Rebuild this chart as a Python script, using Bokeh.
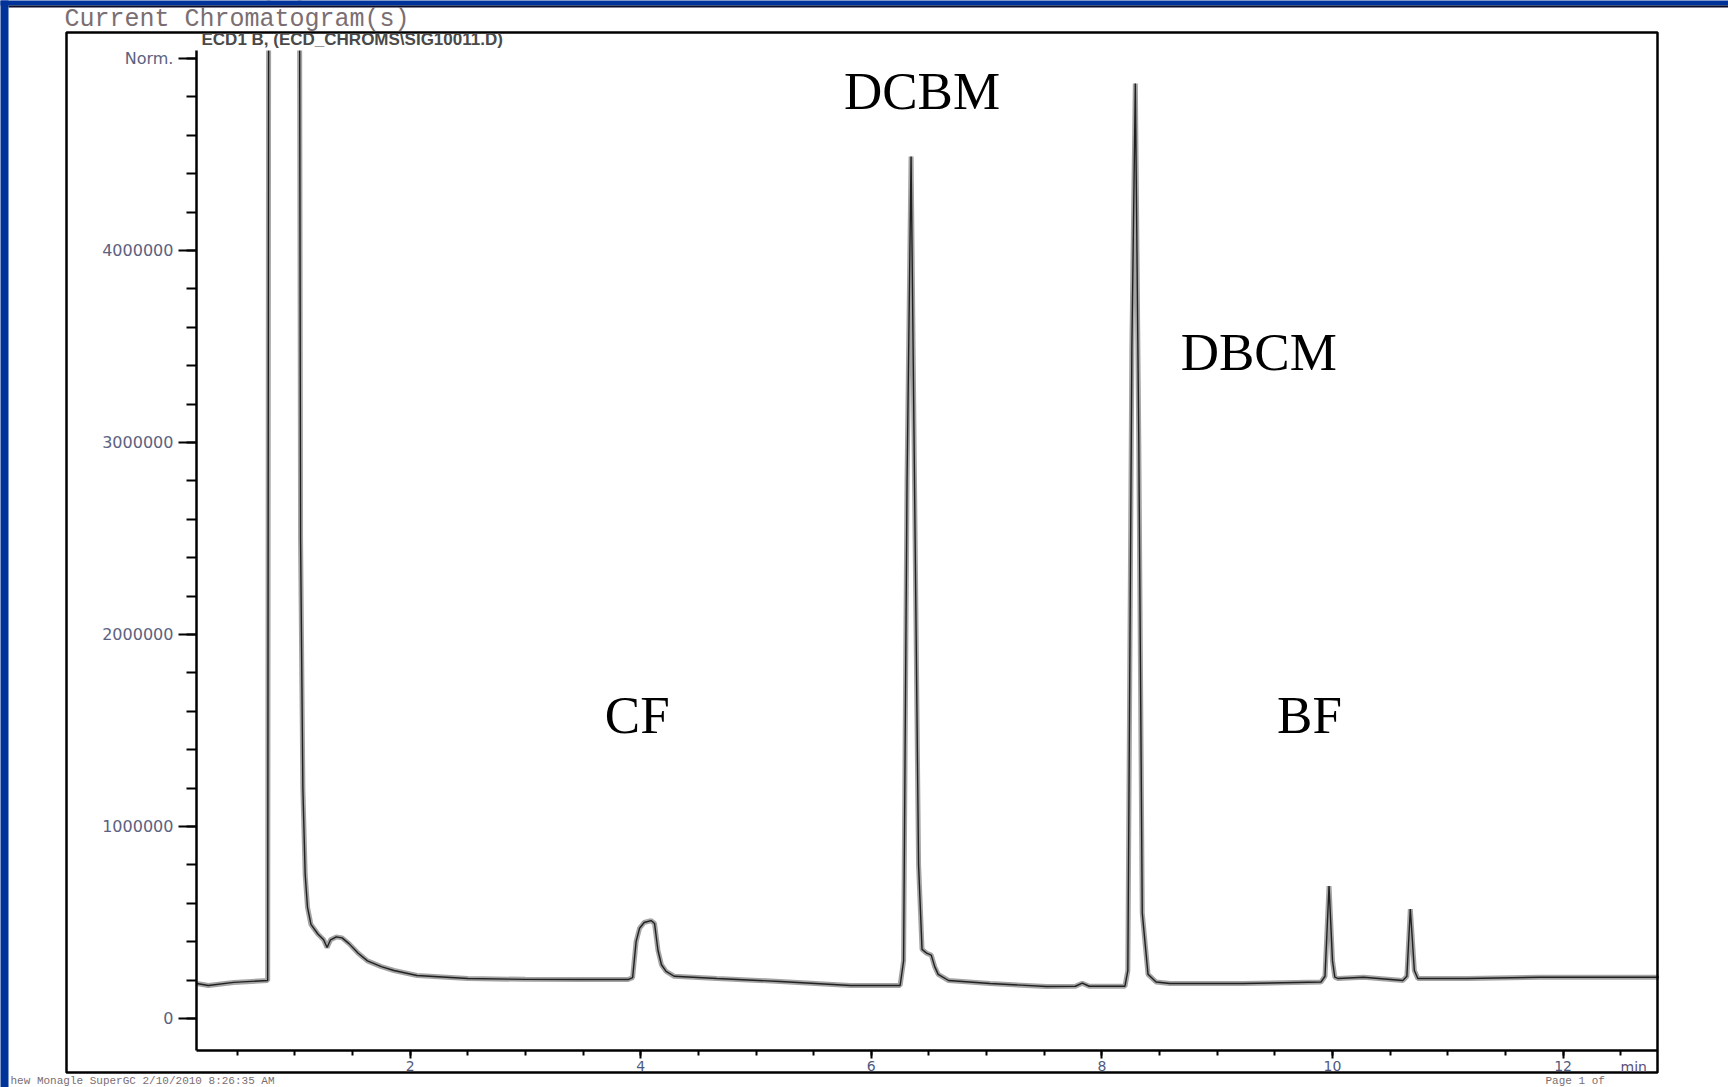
from bokeh.plotting import figure
from bokeh.models import (Range1d, SingleIntervalTicker, NumeralTickFormatter,
                          BoxAnnotation, Label, ColumnDataSource, LinearAxis)
from bokeh.core.properties import value
from bokeh.embed import file_html
from bokeh.resources import INLINE

# ---- data (retention time in min, detector signal in counts) ----
times = [0.15, 0.25, 0.47, 0.765, 0.78, 0.95, 1.03, 1.05, 1.07, 1.09, 1.11, 1.14,
         1.20, 1.25, 1.28, 1.31, 1.36, 1.41, 1.47, 1.55, 1.63, 1.75, 1.86, 2.06,
         2.50, 3.00, 3.50, 3.89, 3.93, 3.96, 3.99, 4.03, 4.09, 4.12, 4.15, 4.18,
         4.22, 4.29, 4.66, 5.21, 5.82, 6.25, 6.28, 6.31, 6.345, 6.38, 6.41, 6.44,
         6.48, 6.52, 6.55, 6.58, 6.67, 7.03, 7.52, 7.77, 7.83, 7.89, 8.20, 8.225,
         8.26, 8.29, 8.32, 8.35, 8.40, 8.47, 8.59, 9.22, 9.90, 9.935, 9.97, 10.00,
         10.02, 10.05, 10.27, 10.61, 10.645, 10.675, 10.71, 10.74, 11.17, 11.80, 12.83]
signal = [182000, 172000, 188000, 198000, 9500000, 12000000, 9000000, 2500000,
          1200000, 750000, 580000, 490000, 440000, 410000, 370000, 410000, 425000,
          420000, 390000, 340000, 300000, 270000, 250000, 224000, 208000, 204000,
          203000, 203000, 213000, 400000, 470000, 500000, 510000, 495000, 354000,
          280000, 245000, 220000, 208000, 193000, 172000, 172000, 300000, 2800000,
          4490000, 2500000, 800000, 360000, 340000, 330000, 270000, 230000, 198000,
          182000, 167000, 168000, 184000, 168000, 168000, 250000, 3500000, 4870000,
          3000000, 550000, 230000, 190000, 182000, 182000, 190000, 220000, 690000,
          300000, 215000, 208000, 215000, 198000, 220000, 570000, 250000, 208000,
          208000, 215000, 215000]
assert len(times) == len(signal)

peak_names = ["CF", "DCBM", "DBCM", "BF"]
label_times = [3.97, 6.44, 9.36, 9.80]
label_signal = [1580000, 4830000, 3470000, 1580000]

x_axis_span = (0.147, 12.82)          # min
y_axis_span = (-166667, 5042000)      # counts
y_tick_override = {5000000: "Norm."}

# ---- page geometry: map page pixels <-> data (the frame covers the page) ----
W, H = 1728, 1087
X0_PX, PX_PER_MIN = 179.0, 115.3
Y0_PX, PX_PER_COUNT = 1018.0, 192.0 / 1e6


def tx(px):
    return (px - X0_PX) / PX_PER_MIN


def vy(py):
    return (Y0_PX - py) / PX_PER_COUNT


p = figure(width=W, height=H, output_backend="svg", toolbar_location=None,
           x_range=Range1d(tx(0), tx(W)), y_range=Range1d(vy(H), vy(0)),
           x_axis_location=None, y_axis_location=None,
           min_border=0, min_border_left=0, min_border_right=0,
           min_border_top=0, min_border_bottom=0)
p.background_fill_color = "white"
p.border_fill_color = "white"
p.outline_line_color = None
p.grid.visible = False

# trace: grey halo + dark core
p.line(times, signal, line_color="#a4a4a4", line_width=5)
p.line(times, signal, line_color="#202020", line_width=1.4)

# peak labels
src = ColumnDataSource(dict(x=label_times, y=label_signal, t=peak_names))
p.text(x="x", y="y", text="t", source=src, text_font=value("Liberation Serif"),
       text_font_size="53px", text_color="black", text_align="center",
       text_baseline="middle")

# axes at fixed locations
xa = LinearAxis(fixed_location=y_axis_span[0], bounds=x_axis_span)
xa.ticker = SingleIntervalTicker(interval=2, num_minor_ticks=4)
xa.axis_line_width = 2.5
xa.axis_line_color = "black"
xa.major_tick_out = 8
xa.major_tick_in = 0
xa.minor_tick_out = 5
xa.minor_tick_in = 0
xa.major_tick_line_width = 2
xa.minor_tick_line_width = 2
xa.major_label_text_font = "DejaVu Sans"
xa.major_label_text_font_size = "14px"
xa.major_label_text_color = "#505a80"
xa.major_label_standoff = 2
p.add_layout(xa, "below")

ya = LinearAxis(fixed_location=x_axis_span[0], bounds=y_axis_span)
ya.ticker = SingleIntervalTicker(interval=1000000, num_minor_ticks=5)
ya.formatter = NumeralTickFormatter(format="0")
ya.major_label_overrides = y_tick_override
ya.axis_line_width = 2.5
ya.axis_line_color = "black"
ya.major_tick_out = 18
ya.major_tick_in = 0
ya.minor_tick_out = 10
ya.minor_tick_in = 0
ya.major_tick_line_width = 2
ya.minor_tick_line_width = 2
ya.major_label_text_font = "DejaVu Sans"
ya.major_label_text_font_size = "16px"
ya.major_label_text_color = "#5b6180"
ya.major_label_standoff = 5
p.add_layout(ya, "left")


def box(l, r, t, b, **kw):
    p.add_layout(BoxAnnotation(left=tx(l), right=tx(r), top=vy(t), bottom=vy(b), **kw))


# white mask over the off-scale part above the plot area
box(225, 345, -20, 50, fill_color="white", fill_alpha=1, line_color=None)
# outer report box
box(66, 1657, 32, 1072, fill_alpha=0, line_color="black", line_alpha=1,
    line_width=2.5)
# slide blue edges
box(-20, W + 20, -20, 5, fill_color="#003399", fill_alpha=1, line_color=None)
box(8, W + 20, 5, 7, fill_color="#0b0b2a", fill_alpha=1, line_color=None)
box(-20, 8, -20, H + 20, fill_color="#003399", fill_alpha=1, line_color=None)


def add_label(text, px, py, font, size, color, align="left", style="normal",
              baseline="middle"):
    p.add_layout(Label(x=tx(px), y=vy(py), text=text, text_font=font,
                       text_font_size=size, text_color=color, text_align=align,
                       text_baseline=baseline, text_font_style=style))


add_label("Current Chromatogram(s)", 64, 19, "Liberation Mono", "25px", "#7a6e72")
add_label("ECD1 B, (ECD_CHROMS\\SIG10011.D)", 201, 39, "Liberation Sans", "17px",
          "#4a4a4a", style="bold")
add_label("min", 1620, 1066, "DejaVu Sans", "14px", "#5a4f7a")
add_label("hew Monagle SuperGC 2/10/2010 8:26:35 AM", 10, 1080, "Liberation Mono",
          "11px", "#7a6e72", baseline="alphabetic")
add_label("Page       1  of", 1545, 1080, "Liberation Mono", "11px", "#7a6e72",
          baseline="alphabetic")

open("out.html", "w").write(file_html(p, INLINE))
